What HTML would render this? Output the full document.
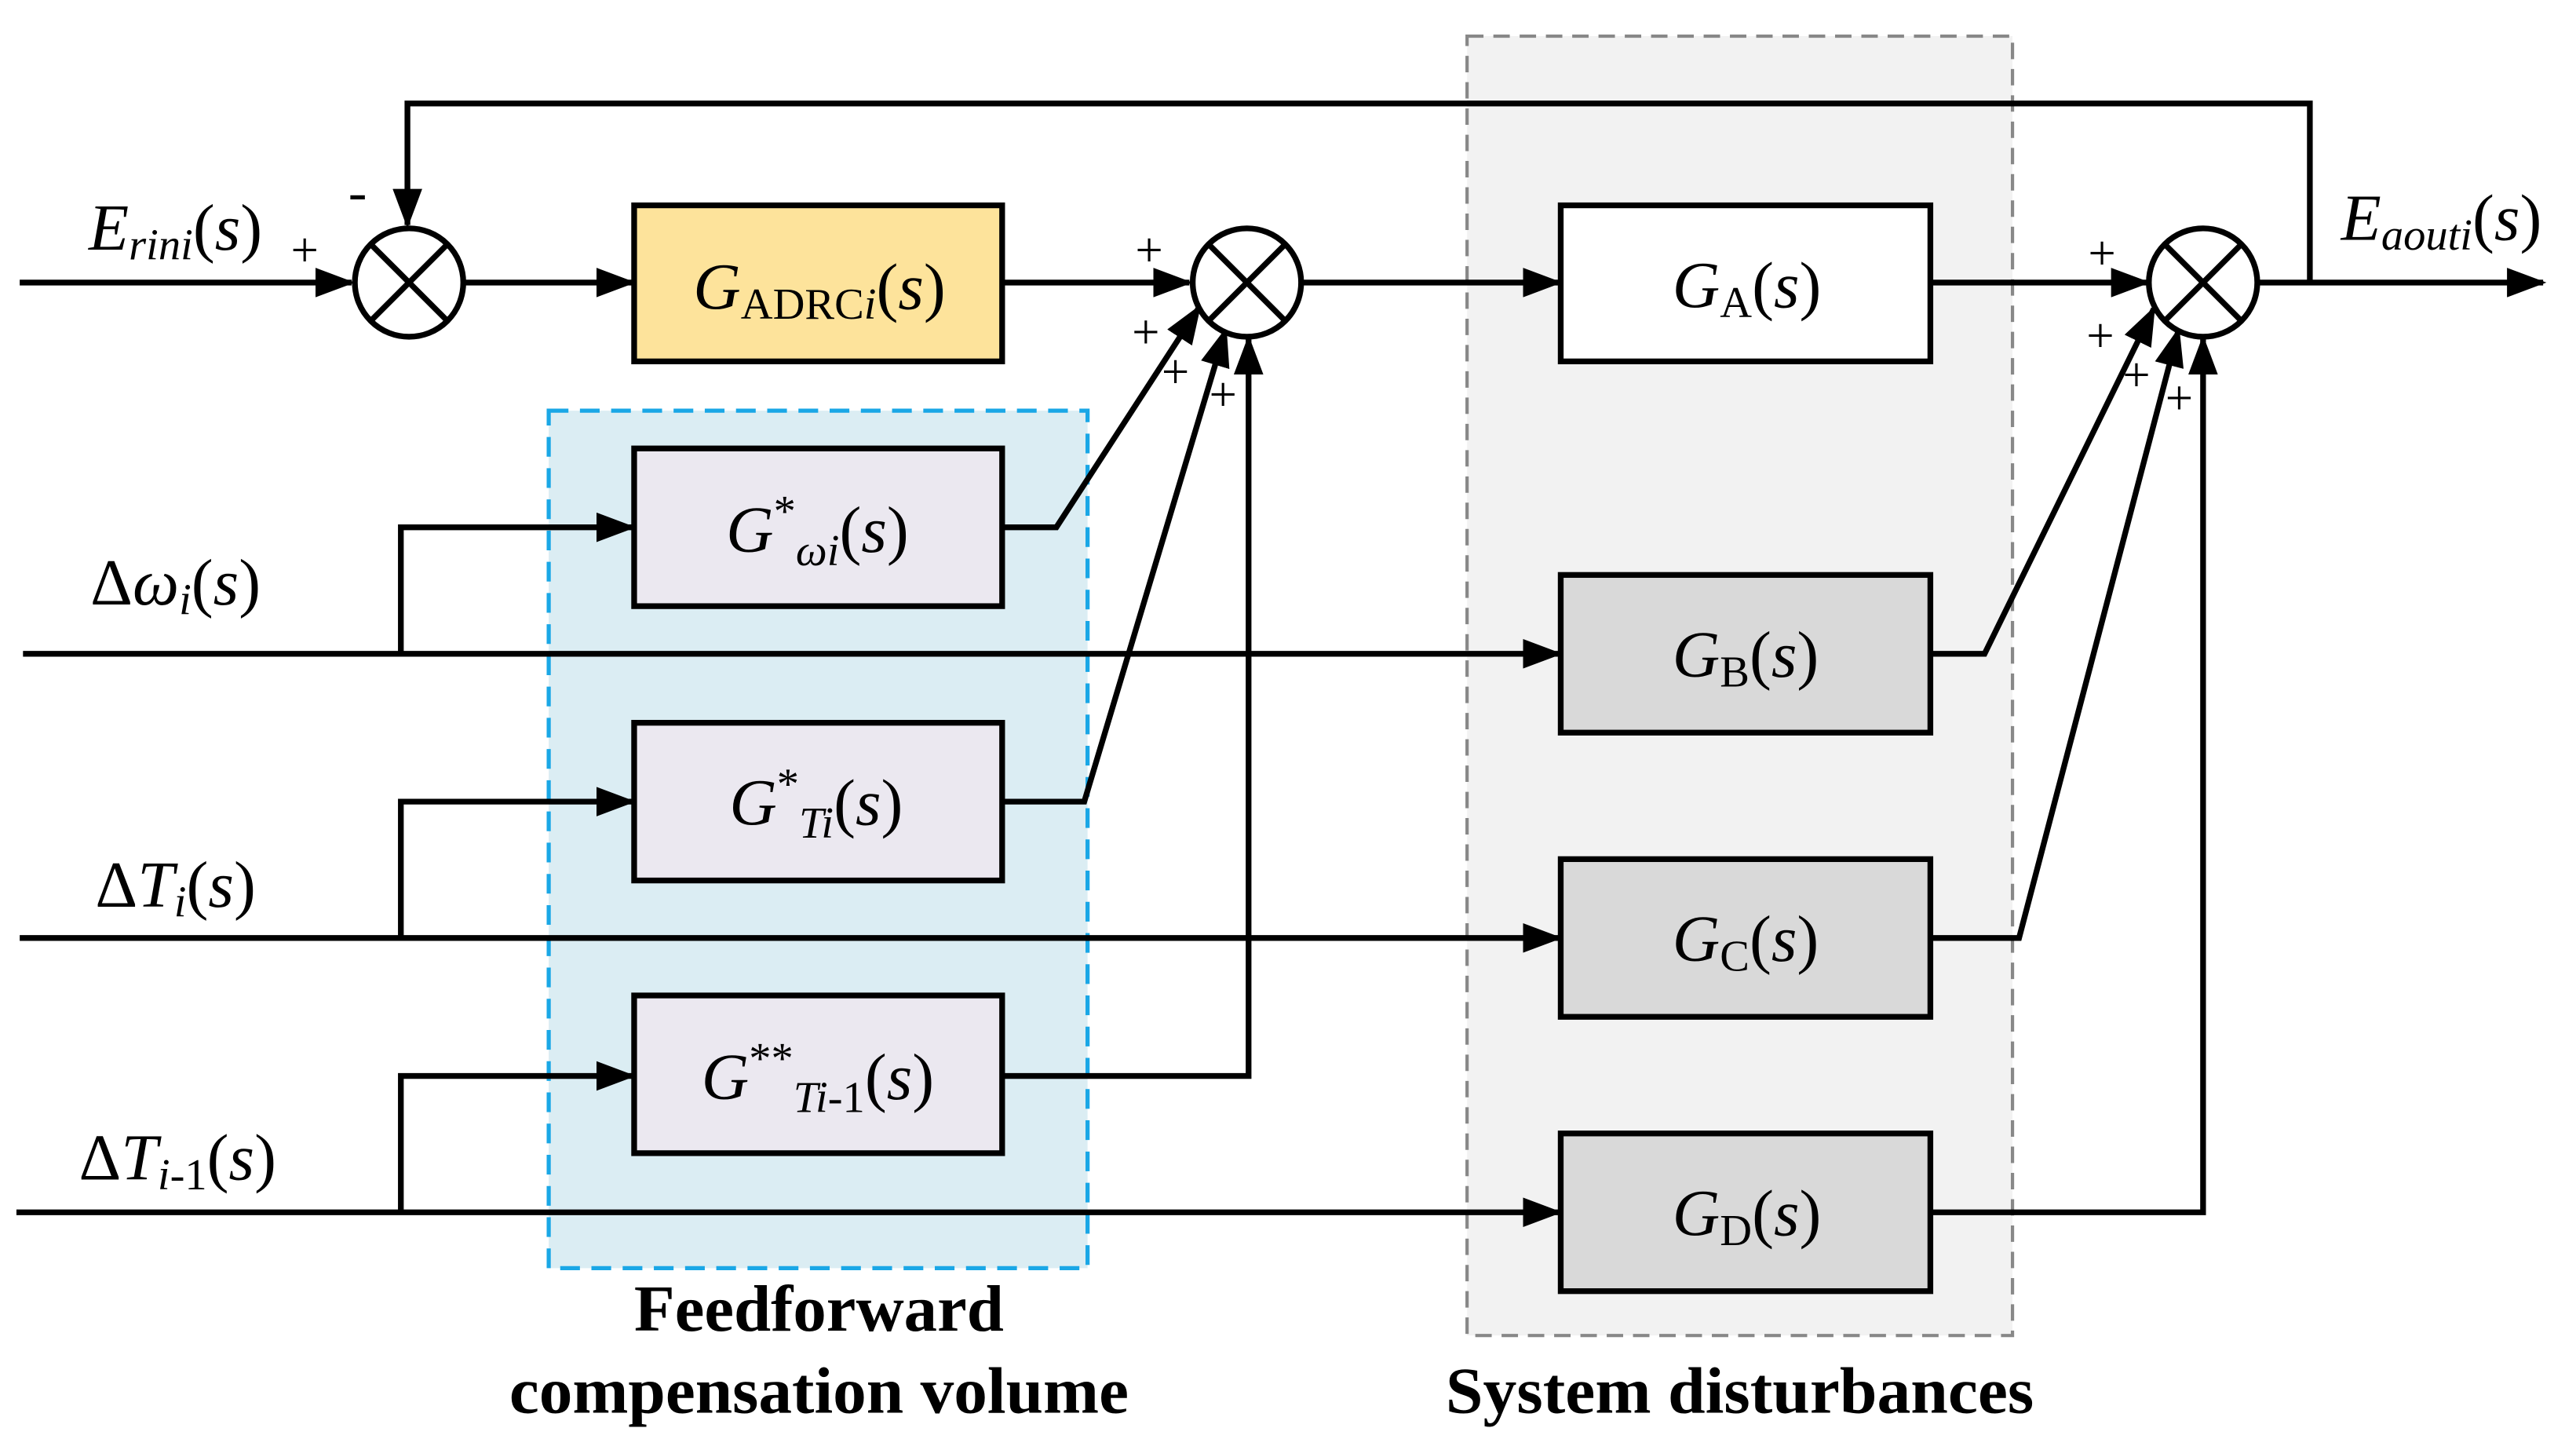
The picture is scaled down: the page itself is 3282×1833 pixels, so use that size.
<!DOCTYPE html>
<html><head><meta charset="utf-8"><style>html,body{margin:0;padding:0;background:#fff}svg{display:block}</style></head>
<body>
<svg width="3282" height="1833" viewBox="0 0 1568 876" preserveAspectRatio="none" xmlns="http://www.w3.org/2000/svg">
<defs>
<marker id="a" markerWidth="24" markerHeight="18" refX="22" refY="9" orient="auto" markerUnits="userSpaceOnUse">
<path d="M0,0 L24,9 L0,18 z" fill="#000"/></marker>
</defs>
<rect x="893" y="22" width="332" height="791" fill="#f2f2f2" stroke="#888" stroke-width="2" stroke-dasharray="10,6"/>
<rect x="334" y="250" width="328" height="522" fill="#dbedf3" stroke="#1aa7e6" stroke-width="2.5" stroke-dasharray="12,7"/>
<g stroke="#000" stroke-width="3.5" fill="none">
<polyline points="1406,172 1406,63 248,63 248,137" marker-end="url(#a)"/>
<line x1="12" y1="172" x2="214" y2="172" marker-end="url(#a)"/>
<line x1="283" y1="172" x2="385" y2="172" marker-end="url(#a)"/>
<line x1="611" y1="172" x2="724" y2="172" marker-end="url(#a)"/>
<line x1="792" y1="172" x2="949" y2="172" marker-end="url(#a)"/>
<line x1="1176" y1="172" x2="1307" y2="172" marker-end="url(#a)"/>
<line x1="1375" y1="172" x2="1548" y2="172" marker-end="url(#a)"/>
<line x1="14" y1="398" x2="949" y2="398" marker-end="url(#a)"/>
<polyline points="244,398 244,321 385,321" marker-end="url(#a)"/>
<line x1="12" y1="571" x2="949" y2="571" marker-end="url(#a)"/>
<polyline points="244,571 244,488 385,488" marker-end="url(#a)"/>
<line x1="10" y1="738" x2="949" y2="738" marker-end="url(#a)"/>
<polyline points="244,738 244,655 385,655" marker-end="url(#a)"/>
<polyline points="611,321 643,321 730,187" marker-end="url(#a)"/>
<polyline points="611,488 660,488 746,201" marker-end="url(#a)"/>
<polyline points="611,655 760,655 760,206" marker-end="url(#a)"/>
<polyline points="1176,398 1208,398 1311,188" marker-end="url(#a)"/>
<polyline points="1176,571 1229,571 1326,201" marker-end="url(#a)"/>
<polyline points="1176,738 1341,738 1341,206" marker-end="url(#a)"/>
<circle cx="249" cy="172" r="33" fill="#fff"/>
<line x1="226" y1="149" x2="272" y2="195"/><line x1="272" y1="149" x2="226" y2="195"/>
<circle cx="759" cy="172" r="33" fill="#fff"/>
<line x1="736" y1="149" x2="782" y2="195"/><line x1="782" y1="149" x2="736" y2="195"/>
<circle cx="1341" cy="172" r="33" fill="#fff"/>
<line x1="1318" y1="149" x2="1364" y2="195"/><line x1="1364" y1="149" x2="1318" y2="195"/>
<rect x="386" y="125" width="224" height="95" fill="#fde39b"/>
<rect x="386" y="273" width="224" height="96" fill="#ebe8f0"/>
<rect x="386" y="440" width="224" height="96" fill="#ebe8f0"/>
<rect x="386" y="606" width="224" height="96" fill="#ebe8f0"/>
<rect x="950" y="125" width="225" height="95" fill="#fff"/>
<rect x="950" y="350" width="225" height="96" fill="#d9d9d9"/>
<rect x="950" y="523" width="225" height="96" fill="#d9d9d9"/>
<rect x="950" y="690" width="225" height="96" fill="#d9d9d9"/>
</g>
<g font-family="'Liberation Serif', serif" fill="#000" font-size="40">
<text x="54" y="152"><tspan font-style="italic">E</tspan><tspan font-style="italic" font-size="27" dy="6">rini</tspan><tspan dy="-6">(</tspan><tspan font-style="italic">s</tspan>)</text>
<text x="1425" y="146"><tspan font-style="italic">E</tspan><tspan font-style="italic" font-size="27" dy="6">aouti</tspan><tspan dy="-6">(</tspan><tspan font-style="italic">s</tspan>)</text>
<text x="55" y="368">Δ<tspan font-style="italic">ω</tspan><tspan font-style="italic" font-size="27" dy="6">i</tspan><tspan dy="-6">(</tspan><tspan font-style="italic">s</tspan>)</text>
<text x="58" y="552">Δ<tspan font-style="italic">T</tspan><tspan font-style="italic" font-size="27" dy="6">i</tspan><tspan dy="-6">(</tspan><tspan font-style="italic">s</tspan>)</text>
<text x="48" y="718">Δ<tspan font-style="italic">T</tspan><tspan font-size="27" dy="6"><tspan font-style="italic">i</tspan>-1</tspan><tspan dy="-6">(</tspan><tspan font-style="italic">s</tspan>)</text>
<text x="422" y="188"><tspan font-style="italic">G</tspan><tspan font-size="27" dy="6">ADRC<tspan font-style="italic">i</tspan></tspan><tspan dy="-6">(</tspan><tspan font-style="italic">s</tspan>)</text>
<text x="442" y="336"><tspan font-style="italic">G</tspan><tspan font-size="27" dy="-16">*</tspan><tspan font-style="italic" font-size="27" dy="24">ωi</tspan><tspan dy="-8">(</tspan><tspan font-style="italic">s</tspan>)</text>
<text x="444" y="502"><tspan font-style="italic">G</tspan><tspan font-size="27" dy="-16">*</tspan><tspan font-style="italic" font-size="27" dy="24">Ti</tspan><tspan dy="-8">(</tspan><tspan font-style="italic">s</tspan>)</text>
<text x="427" y="669"><tspan font-style="italic">G</tspan><tspan font-size="27" dy="-16">**</tspan><tspan font-size="27" dy="24"><tspan font-style="italic">Ti</tspan>-1</tspan><tspan dy="-8">(</tspan><tspan font-style="italic">s</tspan>)</text>
<text x="1018" y="187"><tspan font-style="italic">G</tspan><tspan font-size="27" dy="6">A</tspan><tspan dy="-6">(</tspan><tspan font-style="italic">s</tspan>)</text>
<text x="1018" y="412"><tspan font-style="italic">G</tspan><tspan font-size="27" dy="6">B</tspan><tspan dy="-6">(</tspan><tspan font-style="italic">s</tspan>)</text>
<text x="1018" y="585"><tspan font-style="italic">G</tspan><tspan font-size="27" dy="6">C</tspan><tspan dy="-6">(</tspan><tspan font-style="italic">s</tspan>)</text>
<text x="1018" y="752"><tspan font-style="italic">G</tspan><tspan font-size="27" dy="6">D</tspan><tspan dy="-6">(</tspan><tspan font-style="italic">s</tspan>)</text>
</g>
<g font-family="'Liberation Serif', serif" font-size="30" fill="#000">
<text x="177" y="162">+</text><text x="212" y="128" font-size="34">-</text>
<text x="691" y="162">+</text><text x="689" y="212">+</text><text x="707" y="236">+</text><text x="736" y="250">+</text>
<text x="1271" y="164">+</text><text x="1270" y="214">+</text><text x="1292" y="238">+</text><text x="1318" y="252">+</text>
</g>
<g font-family="'Liberation Serif', serif" font-weight="bold" font-size="40" fill="#000">
<text x="386" y="810" textLength="225" lengthAdjust="spacingAndGlyphs">Feedforward</text>
<text x="310" y="860" textLength="377" lengthAdjust="spacingAndGlyphs">compensation volume</text>
<text x="880" y="860" textLength="358" lengthAdjust="spacingAndGlyphs">System disturbances</text>
</g>
</svg>
</body></html>
